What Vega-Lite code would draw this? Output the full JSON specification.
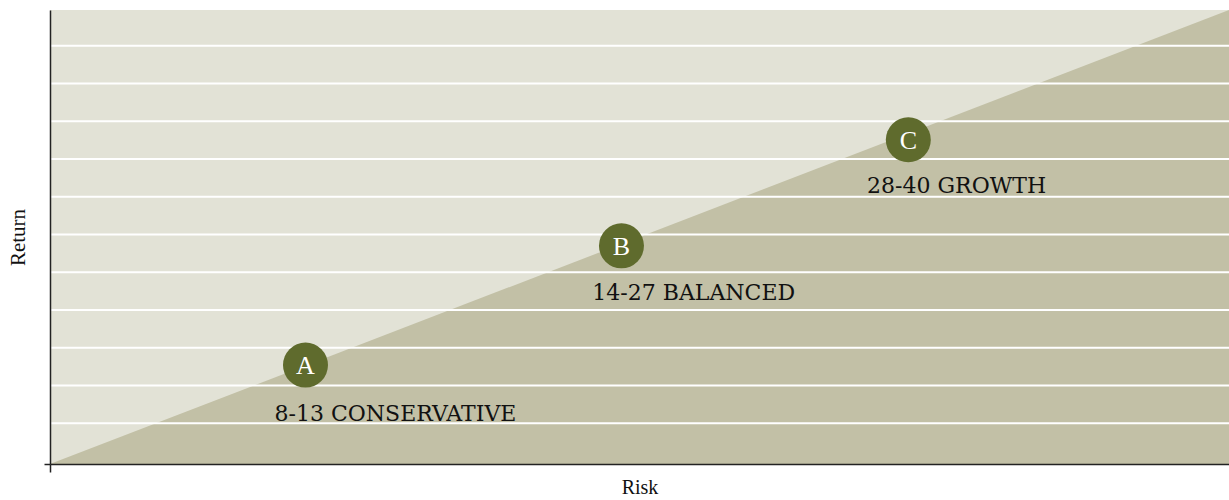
{
  "$schema": "https://vega.github.io/schema/vega-lite/v6.json",
  "width": 1179,
  "height": 454,
  "autosize": {"type": "none"},
  "padding": {"left": 50, "top": 10, "right": 0, "bottom": 36},
  "background": "white",
  "config": {
    "view": {"fill": "#e2e2d6", "stroke": null},
    "font": "Liberation Serif"
  },
  "datasets": {
    "triangle": [{"x": 0, "y": -0.08}, {"x": 100, "y": 11.95}],
    "gridlines": [
      {"x": 0.1, "x2": 100, "y": 1}, {"x": 0.1, "x2": 100, "y": 2}, {"x": 0.1, "x2": 100, "y": 3},
      {"x": 0.1, "x2": 100, "y": 4}, {"x": 0.1, "x2": 100, "y": 5}, {"x": 0.1, "x2": 100, "y": 6},
      {"x": 0.1, "x2": 100, "y": 7}, {"x": 0.1, "x2": 100, "y": 8}, {"x": 0.1, "x2": 100, "y": 9},
      {"x": 0.1, "x2": 100, "y": 10}, {"x": 0.1, "x2": 100, "y": 11}
    ],
    "points": [
      {"x": 21.67, "y": 2.54, "letter": "A"},
      {"x": 48.47, "y": 5.70, "letter": "B"},
      {"x": 72.8, "y": 8.51, "letter": "C"}
    ],
    "labels": [
      {"x": 29.3, "y": 1.25, "label": "8-13 CONSERVATIVE"},
      {"x": 54.6, "y": 4.45, "label": "14-27 BALANCED"},
      {"x": 76.9, "y": 7.29, "label": "28-40 GROWTH"}
    ]
  },
  "encoding": {
    "x": {
      "field": "x", "type": "quantitative",
      "scale": {"domain": [0, 100], "nice": false, "zero": false},
      "axis": {"values": [0], "labels": false, "grid": false, "tickSize": 8, "tickColor": "#222", "tickWidth": 1.5,
               "domainColor": "#222", "domainWidth": 1.5, "title": "Risk", "titleFontSize": 20, "zindex": 1,
               "titleFontWeight": "normal", "titleColor": "#111", "titleFont": "Liberation Serif", "titlePadding": 5}
    },
    "y": {
      "field": "y", "type": "quantitative",
      "scale": {"domain": [-0.08, 11.95], "nice": false, "zero": false},
      "axis": {"values": [-0.08], "labels": false, "grid": false, "tickSize": 6, "tickColor": "#222", "tickWidth": 1.5,
               "domainColor": "#222", "domainWidth": 1.5, "title": "Return", "titleFontSize": 21, "zindex": 1,
               "titleFontWeight": "normal", "titleColor": "#111", "titleFont": "Liberation Serif", "titlePadding": 15}
    }
  },
  "layer": [
    {
      "data": {"name": "triangle"},
      "mark": {"type": "area", "color": "#c2c0a6", "opacity": 1, "interpolate": "linear"},
      "encoding": {"y2": {"datum": -0.08}}
    },
    {
      "data": {"name": "gridlines"},
      "mark": {"type": "rule", "color": "white", "strokeWidth": 2, "strokeCap": "butt"},
      "encoding": {"x2": {"field": "x2"}}
    },
    {
      "data": {"name": "points"},
      "mark": {"type": "point", "shape": "circle", "filled": true, "size": 2025, "color": "#5f6b2d", "opacity": 1}
    },
    {
      "data": {"name": "points"},
      "mark": {"type": "text", "color": "white", "fontSize": 26, "font": "Liberation Serif", "baseline": "middle", "align": "center", "dy": 1},
      "encoding": {"text": {"field": "letter"}}
    },
    {
      "data": {"name": "labels"},
      "mark": {"type": "text", "color": "#111", "fontSize": 22, "font": "DejaVu Serif", "baseline": "middle", "align": "center"},
      "encoding": {"text": {"field": "label"}}
    }
  ]
}
